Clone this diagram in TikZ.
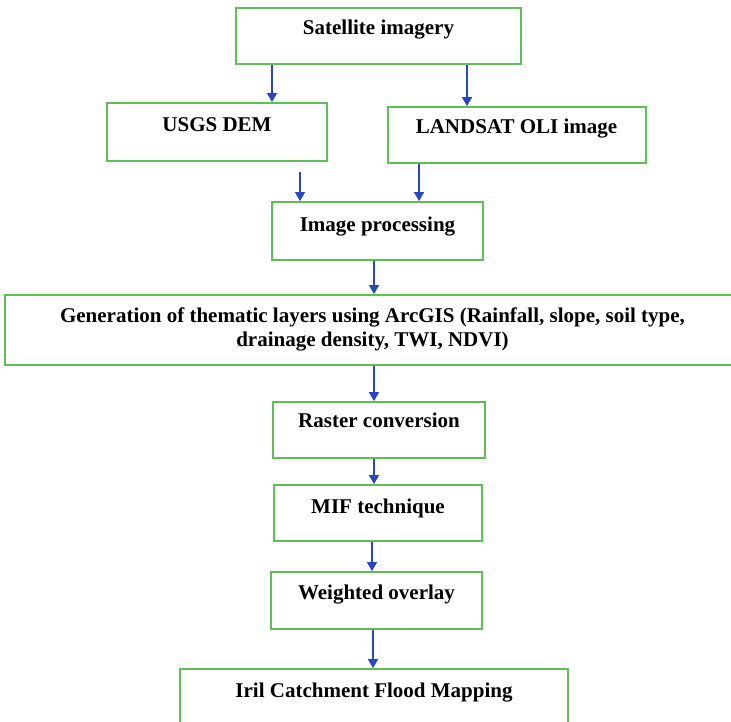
\documentclass[tikz,border=0pt]{standalone}
\usepackage{fontspec}
\setmainfont{Liberation Serif}
\usetikzlibrary{arrows.meta}
\definecolor{boxgreen}{RGB}{95,190,85}
\definecolor{arrblue}{RGB}{40,70,190}
\begin{document}
\begin{tikzpicture}[x=1pt,y=-1pt,
  box/.style={draw=boxgreen, line width=1.8pt, inner sep=0pt, fill=white},
  lbl/.style={font=\fontsize{21}{25}\selectfont\bfseries, inner sep=0pt, anchor=base},
  arr/.style={draw=arrblue, line width=1.4pt, -{Triangle[length=9pt,width=10pt]}}]
\useasboundingbox (0,0) rectangle (731,722);
% boxes
\node[box, minimum width=285pt, minimum height=56pt] (sat) at (378.5,36) {};
\node[box, minimum width=220pt, minimum height=58pt] (usgs) at (217,132) {};
\node[box, minimum width=258pt, minimum height=56pt] (landsat) at (517,135) {};
\node[box, minimum width=211pt, minimum height=58pt] (proc) at (377.5,231) {};
\node[box, minimum width=735pt, minimum height=70pt] (gen) at (372.5,330) {};
\node[box, minimum width=212pt, minimum height=56pt] (raster) at (379,430) {};
\node[box, minimum width=208pt, minimum height=56pt] (mif) at (378,513) {};
\node[box, minimum width=211pt, minimum height=57pt] (weight) at (376.5,600.5) {};
\node[box, minimum width=388pt, minimum height=66pt] (iril) at (374,702) {};
% labels
\node[lbl] (tsat) at (378.5,35) {Satellite imagery};
\node[lbl] (tusgs) at (217,132) {USGS DEM};
\node[lbl] (tlandsat) at (516.5,134) {LANDSAT OLI image};
\node[lbl] (tproc) at (377.5,232) {Image processing};
\node[lbl] (tgena) at (372.5,322) {Generation of thematic layers using ArcGIS (Rainfall, slope, soil type,};
\node[lbl] (tgenb) at (372.5,346) {drainage density, TWI, NDVI)};
\node[lbl] (traster) at (379,427) {Raster conversion};
\node[lbl] (tmif) at (378,513) {MIF technique};
\node[lbl] (tweight) at (376.5,599) {Weighted overlay};
\node[lbl] (tiril) at (374,697) {Iril Catchment Flood Mapping};
% arrows
\draw[arr] (sat.south -| 272,0) -- (usgs.north -| 272,0);
\draw[arr] (sat.south -| 467,0) -- (landsat.north -| 467,0);
\draw[arr] (usgs.south -| 300,0) ++(0,10) -- (proc.north -| 300,0);
\draw[arr] (landsat.south -| 419,0) -- (proc.north -| 419,0);
\draw[arr] (proc.south -| 374,0) -- (gen.north -| 374,0);
\draw[arr] (gen.south -| 374,0) -- (raster.north -| 374,0);
\draw[arr] (raster.south -| 374,0) -- (mif.north -| 374,0);
\draw[arr] (mif.south -| 372,0) -- (weight.north -| 372,0);
\draw[arr] (weight.south -| 373,0) -- (iril.north -| 373,0);
\end{tikzpicture}
\end{document}
